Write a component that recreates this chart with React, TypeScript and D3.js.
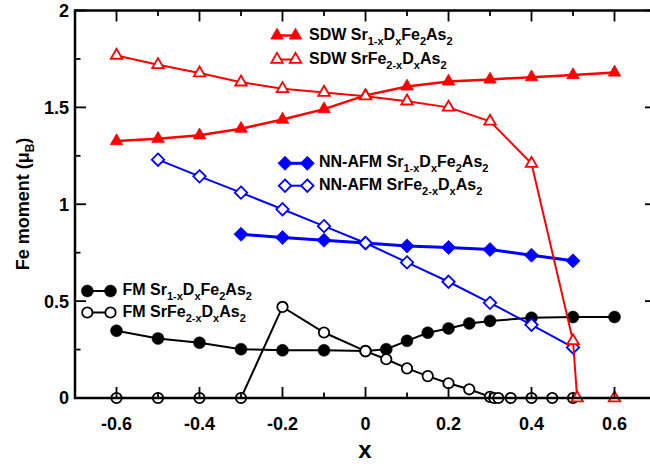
import React, { useEffect, useRef } from 'react';
import * as d3 from 'd3';

const width = 650;
const height = 464;
const font = "'Liberation Sans', Arial, Helvetica, sans-serif";

// SDW, Sr(1-x)DxFe2As2 (filled triangles)
const xSdwSr = [-0.6, -0.5, -0.4, -0.3, -0.2, -0.1, 0, 0.1, 0.2, 0.3, 0.4, 0.5, 0.6];
const ySdwSr = [1.326, 1.338, 1.356, 1.39, 1.437, 1.491, 1.562, 1.608, 1.634, 1.644, 1.656, 1.667, 1.68];
// SDW, SrFe(2-x)DxAs2 (open triangles)
const xSdwFe = [-0.6, -0.5, -0.4, -0.3, -0.2, -0.1, 0, 0.1, 0.2, 0.3, 0.4, 0.5, 0.51, 0.6];
const ySdwFe = [1.768, 1.72, 1.677, 1.63, 1.596, 1.577, 1.558, 1.532, 1.5, 1.428, 1.21, 0.295, 0, 0];

// NN-AFM
const xNnSr = [-0.3, -0.2, -0.1, 0, 0.1, 0.2, 0.3, 0.4, 0.5];
const yNnSr = [0.845, 0.828, 0.814, 0.8, 0.785, 0.777, 0.766, 0.737, 0.708];
const xNnFe = [-0.5, -0.4, -0.3, -0.2, -0.1, 0, 0.1, 0.2, 0.3, 0.4, 0.5];
const yNnFe = [1.23, 1.144, 1.06, 0.974, 0.887, 0.8, 0.7, 0.6, 0.491, 0.378, 0.261];

// FM
const xFmSr = [-0.6, -0.5, -0.4, -0.3, -0.2, -0.1, 0, 0.05, 0.1, 0.15, 0.2, 0.25, 0.3, 0.4, 0.5, 0.6];
const yFmSr = [0.347, 0.307, 0.285, 0.252, 0.246, 0.246, 0.242, 0.252, 0.295, 0.337, 0.359, 0.385, 0.398, 0.414, 0.418, 0.418];
const xFmFe = [-0.6, -0.5, -0.4, -0.3, -0.2, -0.1, 0, 0.05, 0.1, 0.15, 0.2, 0.25, 0.3, 0.31, 0.32, 0.35, 0.4, 0.45, 0.5];
const yFmFe = [0, 0, 0, 0, 0.47, 0.338, 0.242, 0.2, 0.153, 0.113, 0.076, 0.045, 0.006, 0, 0, 0, 0, 0, 0];

const xMajor = [-0.6, -0.4, -0.2, 0, 0.2, 0.4, 0.6];
const xMinor = [-0.5, -0.3, -0.1, 0.1, 0.3, 0.5];
const yMajor = [0, 0.5, 1, 1.5, 2];
const yMinor = [0.25, 0.75, 1.25, 1.75];

// legend labels: [text, isSubscript]
const lblSdwSr = [["SDW Sr", false], ["1-x", true], ["D", false], ["x", true], ["Fe", false], ["2", true], ["As", false], ["2", true]];
const lblSdwFe = [["SDW SrFe", false], ["2-x", true], ["D", false], ["x", true], ["As", false], ["2", true]];
const lblNnSr = [["NN-AFM Sr", false], ["1-x", true], ["D", false], ["x", true], ["Fe", false], ["2", true], ["As", false], ["2", true]];
const lblNnFe = [["NN-AFM SrFe", false], ["2-x", true], ["D", false], ["x", true], ["As", false], ["2", true]];
const lblFmSr = [["FM Sr", false], ["1-x", true], ["D", false], ["x", true], ["Fe", false], ["2", true], ["As", false], ["2", true]];
const lblFmFe = [["FM SrFe", false], ["2-x", true], ["D", false], ["x", true], ["As", false], ["2", true]];

const series = [
    { xs: xFmSr, ys: yFmSr, color: "black", shape: "circle", filled: true, lw: 2, label: lblFmSr, lx: [87.3, 110.5], ly: 291, tx: 122.5, ty: 294.5 },
    { xs: xFmFe, ys: yFmFe, color: "black", shape: "circle", filled: false, lw: 2, label: lblFmFe, lx: [87.3, 110.5], ly: 312.5, tx: 122.5, ty: 316.5 },
    { xs: xNnSr, ys: yNnSr, color: "#0000ff", shape: "diamond", filled: true, lw: 3, label: lblNnSr, lx: [285, 307.3], ly: 163.3, tx: 319, ty: 167 },
    { xs: xNnFe, ys: yNnFe, color: "#0000ff", shape: "diamond", filled: false, lw: 2, label: lblNnFe, lx: [285, 307.3], ly: 185.7, tx: 319, ty: 189.5 },
    { xs: xSdwSr, ys: ySdwSr, color: "#ff0000", shape: "triangle", filled: true, lw: 2.5, label: lblSdwSr, lx: [277, 295.5], ly: 35.5, tx: 309, ty: 39.5 },
    { xs: xSdwFe, ys: ySdwFe, color: "#ff0000", shape: "triangle", filled: false, lw: 2, label: lblSdwFe, lx: [277, 295.5], ly: 59.5, tx: 309, ty: 63.5 },
];

const markerPath = (shape, filled) => {
    if (shape === "triangle") {
        const s = filled ? 12.5 : 11.5;
        const h = s * Math.sqrt(3) / 2;
        return `M0,${-h * 2 / 3}L${s / 2},${h / 3}L${-s / 2},${h / 3}Z`;
    }
    if (shape === "diamond") {
        const r = filled ? 7 : 6.2;
        return `M0,${-r}L${r},0L0,${r}L${-r},0Z`;
    }
    return null;
};

function drawMarker(g, s, x, y) {
    if (s.shape === "circle") {
        g.append("circle")
            .attr("cx", x).attr("cy", y)
            .attr("r", s.filled ? 6 : 5.2)
            .attr("fill", s.filled ? s.color : "white")
            .attr("stroke", s.color)
            .attr("stroke-width", s.filled ? 0.5 : 1.8);
    } else {
        g.append("path")
            .attr("d", markerPath(s.shape, s.filled))
            .attr("transform", `translate(${x},${y})`)
            .attr("fill", s.filled ? s.color : "white")
            .attr("stroke", s.color)
            .attr("stroke-width", s.filled ? 0.8 : 1.8)
            .attr("stroke-linejoin", "miter");
    }
}

function richText(g, x, y, parts, size, subSize) {
    const t = g.append("text")
        .attr("x", x).attr("y", y)
        .style("font-family", font)
        .style("font-weight", "bold")
        .style("font-size", size + "px")
        .attr("fill", "black");
    let inSub = false;
    parts.forEach(([str, isSub]) => {
        const ts = t.append("tspan").text(str);
        if (isSub) ts.style("font-size", subSize + "px");
        if (isSub && !inSub) ts.attr("dy", 5);
        if (!isSub && inSub) ts.attr("dy", -5);
        inSub = isSub;
    });
    return t;
}

const App = () => {
    const ref = useRef(null);

    useEffect(() => {
        const svg = d3.select(ref.current);
        svg.selectAll("*").remove();

        const xScale = d3.scaleLinear().domain([-0.7, 0.7]).range([75, 656]);
        const yScale = d3.scaleLinear().domain([0, 2]).range([398, 10.5]);

        const line = d3.line().x(d => xScale(d[0])).y(d => yScale(d[1]));

        const plot = svg.append("g");

        // data
        series.forEach(s => {
            const pts = s.xs.map((x, i) => [x, s.ys[i]]);
            plot.append("path")
                .attr("d", line(pts))
                .attr("fill", "none")
                .attr("stroke", s.color)
                .attr("stroke-width", s.lw);
            pts.forEach(p => drawMarker(plot, s, xScale(p[0]), yScale(p[1])));
        });

        // legends
        const leg = svg.append("g");
        series.forEach(s => {
            leg.append("line")
                .attr("x1", s.lx[0]).attr("x2", s.lx[1])
                .attr("y1", s.ly).attr("y2", s.ly)
                .attr("stroke", s.color)
                .attr("stroke-width", s.lw);
            s.lx.forEach(x => drawMarker(leg, s, x, s.ly));
            richText(leg, s.tx, s.ty, s.label, 16, 11);
        });

        // frame + ticks
        const ax = svg.append("g");
        const [x0, x1] = xScale.range();
        const [yb, yt] = yScale.range();
        ax.append("rect")
            .attr("x", x0).attr("y", yt)
            .attr("width", x1 - x0).attr("height", yb - yt)
            .attr("fill", "none")
            .attr("stroke", "black")
            .attr("stroke-width", 2.5);

        const tick = (xa, ya, xb, yb2) => ax.append("line")
            .attr("x1", xa).attr("y1", ya).attr("x2", xb).attr("y2", yb2)
            .attr("stroke", "black").attr("stroke-width", 1.8);

        xMajor.forEach(v => { const x = xScale(v); tick(x, yb, x, yb - 11); tick(x, yt, x, yt + 11); });
        xMinor.forEach(v => { const x = xScale(v); tick(x, yb, x, yb - 5.5); tick(x, yt, x, yt + 5.5); });
        yMajor.forEach(v => { const y = yScale(v); tick(x0, y, x0 + 11, y); tick(x1, y, x1 - 11, y); });
        yMinor.forEach(v => { const y = yScale(v); tick(x0, y, x0 + 5.5, y); tick(x1, y, x1 - 5.5, y); });

        ax.selectAll("text.xt")
            .data(xMajor)
            .join("text")
            .attr("class", "xt")
            .attr("x", d => xScale(d))
            .attr("y", 429.5)
            .attr("text-anchor", "middle")
            .style("font-family", font)
            .style("font-weight", "bold")
            .style("font-size", "18px")
            .text(d => d3.format("")(d).replace("−", "-"));

        ax.selectAll("text.yt")
            .data(yMajor)
            .join("text")
            .attr("class", "yt")
            .attr("x", 69)
            .attr("y", d => yScale(d))
            .attr("dy", "0.36em")
            .attr("text-anchor", "end")
            .style("font-family", font)
            .style("font-weight", "bold")
            .style("font-size", "18px")
            .text(d => String(d));

        // axis titles
        ax.append("text")
            .attr("x", 365)
            .attr("y", 458)
            .attr("text-anchor", "middle")
            .style("font-family", font)
            .style("font-weight", "bold")
            .style("font-size", "24px")
            .text("x");

        const yt2 = ax.append("text")
            .attr("transform", "translate(28.5,204) rotate(-90)")
            .attr("text-anchor", "middle")
            .style("font-family", font)
            .style("font-weight", "bold")
            .style("font-size", "18px");
        yt2.append("tspan").text("Fe moment (μ");
        yt2.append("tspan").text("B").attr("dy", 5).style("font-size", "12px");
        yt2.append("tspan").text(")").attr("dy", -5);
    }, []);

    return (
        <svg ref={ref} width={width} height={height}
             style={{ position: "absolute", left: 0, top: 0, background: "white" }}></svg>
    );
};

export default App;
